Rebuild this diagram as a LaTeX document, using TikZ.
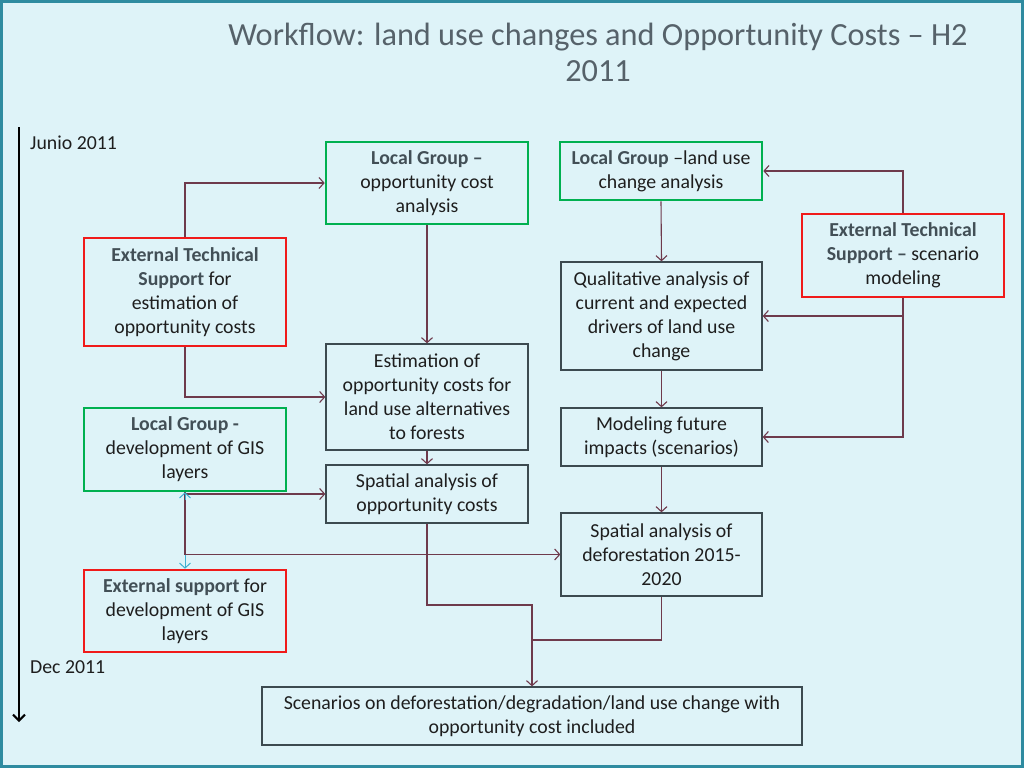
\documentclass[tikz,border=0pt]{standalone}
\usepackage{fontspec}
\setmainfont{Carlito}
\usetikzlibrary{arrows.meta}
\definecolor{bgc}{HTML}{DEF3F8}
\definecolor{framec}{HTML}{2E8BA0}
\definecolor{connc}{HTML}{6E3A4C}
\definecolor{gboxc}{HTML}{00B050}
\definecolor{rboxc}{HTML}{F01A1A}
\definecolor{kboxc}{HTML}{3C4A50}
\definecolor{txtc}{HTML}{1E1E1E}
\definecolor{btxtc}{HTML}{424F56}
\definecolor{ttlc}{HTML}{56626A}
\definecolor{cyanc}{HTML}{3FB0D0}
\newcommand{\hb}[1]{\textbf{\textcolor{btxtc}{#1}}}
\newcommand{\topstrutx}{\rule{0pt}{21pt}}
\tikzset{
  base/.style={rectangle, align=center, inner sep=0pt, text=txtc, font=\fontsize{19.8}{24}\selectfont,
    execute at begin node=\topstrutx},
  kbox/.style={base, draw=kboxc, line width=1.3pt},
  gbox/.style={base, draw=gboxc, line width=2.6pt},
  rbox/.style={base, draw=rboxc, line width=2.6pt},
  conn/.style={draw=connc, line width=1.1pt, -{Straight Barb[length=5pt,width=11pt]}},
  lbl/.style={anchor=west, inner sep=0pt, text=txtc, font=\fontsize{19.8}{24}\selectfont}
}
\begin{document}
\begin{tikzpicture}[x=1pt,y=-1pt]
\useasboundingbox (0,0) rectangle (1024,768);
\fill[bgc] (0,0) rectangle (1024,768);
\draw[framec, line width=3pt] (1.5,1.5) rectangle (1022.5,766.5);

\node[text=ttlc, align=center, font=\fontsize{32.3}{36}\selectfont] (title) at (598,52)
  {Workflow: land use changes and Opportunity Costs – H2\\2011};

% timeline
\coordinate (tl0) at (19,127);
\coordinate (tl1) at (19,722);
\draw[black, line width=2pt, -{Straight Barb[length=6pt,width=12pt]}] (tl0) -- (tl1);
\node[lbl] (jun) at (30,143) {Junio 2011};
\node[lbl] (dec) at (30,667) {Dec 2011};

% boxes
\node[gbox, minimum width=202, minimum height=82] (lgopp) at (427,183)
  {\hb{Local Group –}\\opportunity cost\\analysis};
\node[gbox, minimum width=202, minimum height=58] (lgluc) at (661,171)
  {\hb{Local Group} –land use\\change analysis};
\node[rbox, minimum width=202, minimum height=108] (etsopp) at (185,292)
  {\hb{External Technical}\\\hb{Support} for\\estimation of\\opportunity costs};
\node[rbox, minimum width=202, minimum height=83] (etsscen) at (903,255.5)
  {\hb{External Technical}\\\hb{Support –} scenario\\modeling};
\node[kbox, minimum width=201, minimum height=108] (qual) at (661.5,316)
  {Qualitative analysis of\\current and expected\\drivers of land use\\change};
\node[kbox, minimum width=202, minimum height=106] (est) at (427,397)
  {Estimation of\\opportunity costs for\\land use alternatives\\to forests};
\node[gbox, minimum width=202, minimum height=83] (lggis) at (185,449.5)
  {\hb{Local Group -}\\development of GIS\\layers};
\node[kbox, minimum width=201, minimum height=58] (model) at (661.5,437)
  {Modeling future\\impacts (scenarios)};
\node[kbox, minimum width=202, minimum height=58] (spopp) at (427,494)
  {Spatial analysis of\\opportunity costs};
\node[kbox, minimum width=201, minimum height=83] (spdef) at (661.5,554.5)
  {Spatial analysis of\\deforestation 2015-\\2020};
\node[rbox, minimum width=202, minimum height=82] (extgis) at (185,611)
  {\hb{External support} for\\development of GIS\\layers};
\node[kbox, minimum width=540, minimum height=58] (scen) at (532,716)
  {Scenarios on deforestation/degradation/land use change with\\opportunity cost included};

% connectors
\draw[conn] (etsopp.north) |- (lgopp.west);
\draw[conn] (lgopp.south) -- (est.north);
\draw[conn] (etsopp.south) |- (est.west);
\draw[conn] (est.south) -- (spopp.north);
\draw[cyanc, line width=1pt, -{Straight Barb[length=5pt,width=11pt]}] (lggis.south) -- (extgis.north);
\draw[conn] (lggis.south) |- (spopp.west);
\draw[conn] (lggis.south) |- (spdef.west);
\coordinate (gtip) at ([yshift=-8pt]lggis.south);
\draw[cyanc, line width=1pt, -{Straight Barb[length=5pt,width=11pt]}] (gtip) -- (lggis.south);
\draw[conn] (lgluc.south) -- (qual.north);
\draw[conn] (etsscen.north) |- (lgluc.east);
\draw[conn] (etsscen.south) |- (qual.east);
\draw[conn] (etsscen.south) |- (model.east);
\draw[conn] (qual.south) -- (model.north);
\draw[conn] (model.south) -- (spdef.north);
\coordinate (j1) at (532,605);
\coordinate (j2) at (532,640);
\draw[conn] (spopp.south) |- (j1) -- (scen.north);
\draw[draw=connc, line width=1.1pt] (spdef.south) |- (j2);
\end{tikzpicture}
\end{document}
